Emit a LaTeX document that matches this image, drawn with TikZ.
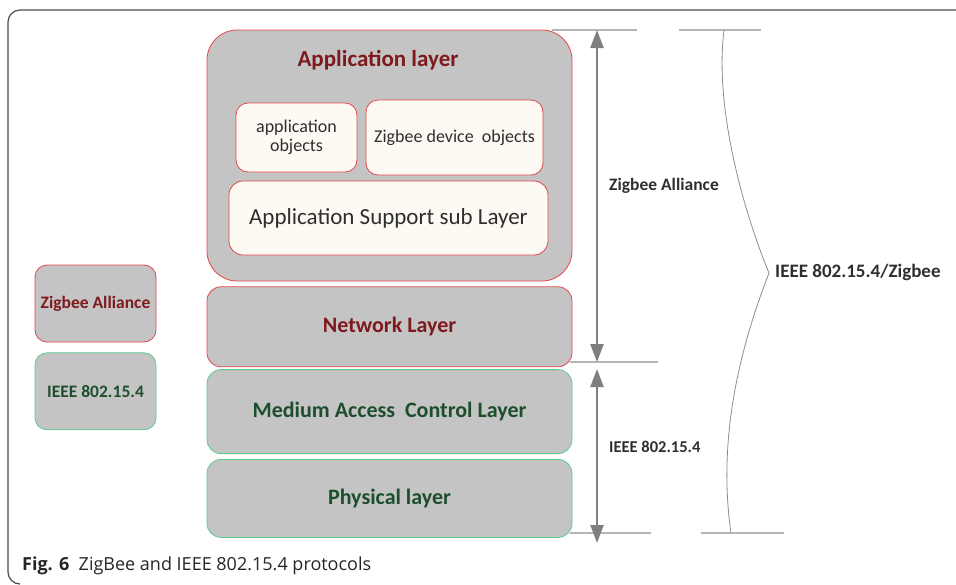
\documentclass[tikz,border=0pt]{standalone}
\usepackage{fontspec}
\setmainfont{Carlito}
\newfontfamily\capfont{Open Sans}
\usetikzlibrary{positioning, arrows.meta}
\definecolor{layergray}{HTML}{C4C4C4}
\definecolor{cream}{HTML}{FDFAF3}
\definecolor{redline}{HTML}{E2474C}
\definecolor{greenline}{HTML}{5CC98E}
\definecolor{darkred}{HTML}{7E1A1E}
\definecolor{darkgreen}{HTML}{1D4F2C}
\definecolor{textgray}{HTML}{2E2E2E}
\definecolor{tickgray}{HTML}{B4B4B4}
\definecolor{arrowgray}{HTML}{7F7F7F}
\tikzstyle{Layer} = [rectangle, rounded corners=14pt, fill=layergray,
inner sep=0pt, line width=0.8pt, minimum width=365pt]
\tikzstyle{RedLayer} = [Layer, draw=redline, text=darkred, font=\bfseries\fontsize{22}{24}\selectfont]
\tikzstyle{GreenLayer} = [Layer, draw=greenline, text=darkgreen, font=\bfseries\fontsize{22}{24}\selectfont]
\tikzstyle{SubBox} = [rectangle, rounded corners=12pt, fill=cream, draw=redline,
line width=0.8pt, inner sep=2pt, text=textgray, align=center]
\tikzstyle{Legend} = [rectangle, rounded corners=12pt, fill=layergray, inner sep=0pt,
line width=0.8pt, minimum width=121pt, minimum height=77pt, font=\bfseries\fontsize{17.5}{19}\selectfont]
\tikzstyle{Tick} = [tickgray, line width=1.2pt]
\tikzstyle{Span} = [arrowgray, line width=2.2pt, {Triangle[length=18pt,width=13pt]}-{Triangle[length=18pt,width=13pt]}]
\tikzstyle{Side} = [text=textgray, anchor=west, inner sep=0pt]

\begin{document}
\begin{tikzpicture}[x=1pt, y=-1pt]
    \useasboundingbox (0,0) rectangle (956,584);
    \draw[black!70, line width=1.2pt, rounded corners=12pt] (957,10) -- (8,10) -- (8,584) -- (20,584);

    \node [RedLayer, draw=redline, minimum height=251pt, rounded corners=30pt] (app) at (389.5,155.5) {};
    \node [text=darkred, font=\bfseries\fontsize{23}{25}\selectfont] (apptitle) at (378,60) {Application layer};
    \node [SubBox, minimum width=121pt, minimum height=69pt, font=\fontsize{18}{19}\selectfont] (ao) at (296.5,137.5) {application\\objects};
    \node [SubBox, minimum width=177pt, minimum height=75pt, font=\fontsize{18}{19}\selectfont] (zdo) at (454.5,137.5) {Zigbee device\ \ objects};
    \node [SubBox, rounded corners=14pt, minimum width=319pt, minimum height=74pt, font=\fontsize{23}{25}\selectfont] (aps) at (388.5,218) {Application Support sub Layer};

    \node [RedLayer, minimum height=80pt, below=5pt of app] (net) {Network Layer};
    \node [GreenLayer, minimum height=84pt, below=2pt of net] (mac) {Medium Access\ \ Control Layer};
    \node [GreenLayer, minimum height=78pt, below=5pt of mac] (phy) {Physical layer};

    \node [Legend, draw=redline, text=darkred] (lza) at (95.5,303.5) {Zigbee Alliance};
    \node [Legend, draw=greenline, text=darkgreen, below=10pt of lza] (lieee) {IEEE 802.15.4};

    \coordinate (zatop) at (597,30);
    \coordinate (zabot) at (597,362);
    \coordinate (ietop) at (597,369);
    \coordinate (iebot) at (597,543);
    \draw[Tick] (552,30) -- (637,30);
    \draw[Tick] (570,362) -- (658,362);
    \draw[Tick] (570,533) -- (651,533);
    \draw[Span] (zatop) -- (zabot);
    \draw[Span] (ietop) -- (iebot);
    \node [Side, font=\bfseries\fontsize{17.5}{19}\selectfont] (za) at (609,186) {Zigbee Alliance};
    \node [Side, font=\bfseries\fontsize{16.5}{19}\selectfont] (ieee) at (609,447) {IEEE 802.15.4};

    \coordinate (btop) at (724,30);
    \coordinate (btip) at (769,273);
    \coordinate (bbot) at (731,533);
    \draw[Tick] (679,30) -- (761,30);
    \draw[Tick] (701,533) -- (784,533);
    \draw[black!45, line width=0.8pt] (btop) .. controls (714,110) and (745,215) .. (btip)
        .. controls (745,335) and (716,430) .. (bbot);
    \node [Side, font=\bfseries\fontsize{19}{21}\selectfont] (both) at (775,272) {IEEE 802.15.4/Zigbee};

    \node [anchor=west, inner sep=0pt, text=black!85, font=\capfont\fontsize{18}{20}\selectfont] (cap) at (22,566) {\textbf{Fig. 6}\ \ ZigBee and IEEE 802.15.4 protocols};
\end{tikzpicture}
\end{document}
